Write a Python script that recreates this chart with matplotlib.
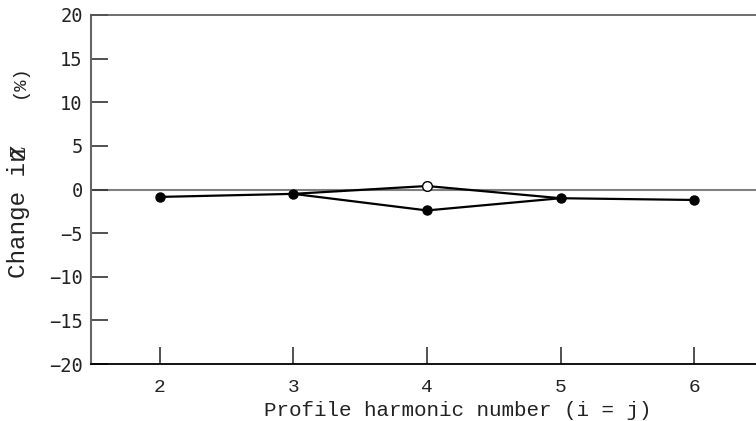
import matplotlib
matplotlib.use("Agg")
import matplotlib.pyplot as plt

# harmonic numbers (i = j) and percent changes
harmonics = [2, 3, 4, 5, 6]
change_main = [-0.85, -0.5, -2.4, -1.0, -1.2]
harmonics_alt = [3, 4, 5]
change_alt = [-0.5, 0.4, -1.0]
yticks = [-20, -15, -10, -5, 0, 5, 10, 15, 20]

fig = plt.figure(figsize=(7.56, 4.21), dpi=100)
ax = fig.add_axes([91 / 756, 57 / 421, 665 / 756, 349 / 421])

ax.axhline(0, color="#808080", lw=1.5, zorder=1)

# open-circle branch first, then the filled-dot series on top
ax.plot(harmonics_alt, change_alt, color="black", lw=1.6, zorder=2)
ax.plot(harmonics_alt[1], change_alt[1], "o", ms=7, mfc="white", mec="black", mew=1.0, zorder=4)
ax.plot(harmonics, change_main, color="black", lw=1.6, marker="o", ms=6.5, mfc="black", mec="black", zorder=3)

ax.set_xlim(1.485, 6.463)
ax.set_ylim(-20, 20)
ax.set_xticks(harmonics)
ax.set_yticks(yticks)
ax.set_yticklabels([str(v).replace("-", "\u2212") for v in yticks], family="DejaVu Sans Mono",
                   fontsize=13.5, color="#222222")
ax.set_xticklabels([str(v) for v in harmonics], family="Liberation Mono", fontsize=14, color="#222222")

ax.tick_params(axis="y", direction="in", length=12, width=1.2, color="#333333", pad=6)
ax.tick_params(axis="x", direction="in", length=12, width=1.2, color="#333333", pad=11)

ax.spines["right"].set_visible(False)
ax.spines["left"].set_color("#666666")
ax.spines["left"].set_linewidth(1.5)
ax.spines["top"].set_color("#555555")
ax.spines["top"].set_linewidth(1.2)
ax.spines["bottom"].set_color("black")
ax.spines["bottom"].set_linewidth(1.3)

# axis labels, placed by hand like the scanned original (Z overlaps the n there too)
fig.text(458 / 756, 1 - 411 / 421, "Profile harmonic number (i = j)", family="Liberation Mono",
         fontsize=15, ha="center", va="center", color="#222222")
fig.text(19 / 756, 1 - 278 / 421, "Change in", family="Liberation Mono", fontsize=17.5,
         rotation=90, ha="center", va="bottom", color="#222222")
fig.text(20 / 756, 1 - 152 / 421, "Z", family="Liberation Serif", style="italic", fontsize=17,
         rotation=90, ha="center", va="center", color="#222222")
fig.text(19 / 756, 1 - 64 / 421, "(%)", family="Liberation Mono", fontsize=13.5,
         rotation=90, ha="center", va="top", color="#222222")

fig.savefig("out.png", dpi=100)
